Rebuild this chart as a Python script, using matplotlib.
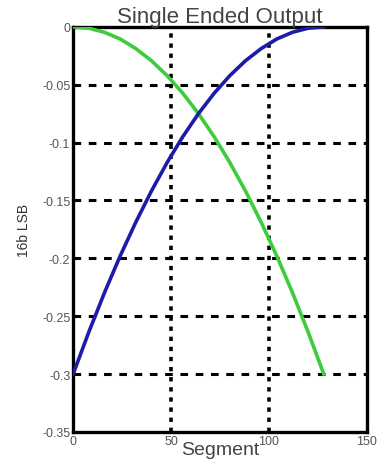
import matplotlib.pyplot as plt

segment = [0, 8, 16, 24, 32, 40, 48, 56, 64, 72, 80, 88, 96, 104, 112, 120, 128]
green_lsb = [0, -0.0012, -0.0047, -0.0105, -0.0188, -0.0293, -0.0422, -0.0574, -0.075,
             -0.0949, -0.1172, -0.1418, -0.1688, -0.198, -0.2297, -0.2637, -0.3]
blue_lsb = [-0.3, -0.2637, -0.2297, -0.198, -0.1688, -0.1418, -0.1172, -0.0949, -0.075,
            -0.0574, -0.0422, -0.0293, -0.0188, -0.0105, -0.0047, -0.0012, 0]

xticks = [0, 50, 100, 150]
yticks = [0, -0.05, -0.1, -0.15, -0.2, -0.25, -0.3, -0.35]
yticklabels = ['0', '-0.05', '-0.1', '-0.15', '-0.2', '-0.25', '-0.3', '-0.35']

plt.rcParams['font.family'] = ['Liberation Sans', 'DejaVu Sans']

fig = plt.figure(figsize=(3.79, 4.64), dpi=100)
ax = fig.add_axes([0.193, 0.067, 0.775, 0.873])

ax.plot(segment, green_lsb, color='#3ccc3c', lw=2.6, zorder=3)
ax.plot(segment, blue_lsb, color='#1c1ca8', lw=2.6, zorder=3)

ax.set_xlim(0, 150)
ax.set_ylim(-0.35, 0)
ax.set_xticks(xticks)
ax.set_xticklabels([str(t) for t in xticks])
ax.set_yticks(yticks)
ax.set_yticklabels(yticklabels)
ax.tick_params(length=0, labelsize=9, colors='#555555', pad=2)

for y in yticks[1:-1]:
    ax.axhline(y, color='black', lw=2.2, ls=(0, (2.5, 2.5)), zorder=1)
for x in xticks[1:-1]:
    ax.axvline(x, color='black', lw=2.6, ls=(0, (1.2, 1.6)), zorder=1)

for s in ax.spines.values():
    s.set_linewidth(2.4)

ax.set_title('Single Ended Output', fontsize=16, color='#444444', pad=2)
ax.set_xlabel('Segment', fontsize=14, color='#444444', labelpad=-4)
ax.set_ylabel('16b LSB', fontsize=10, color='#333333', labelpad=8)

fig.savefig('out.png', dpi=100)
